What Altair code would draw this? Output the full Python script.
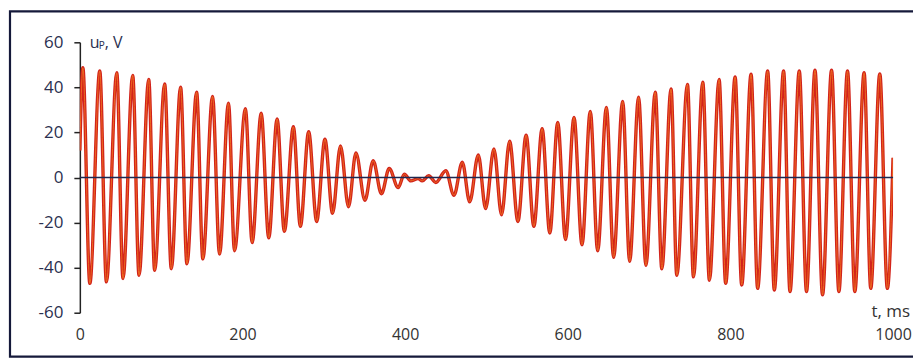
import altair as alt
import pandas as pd

# Waveform: local maxima / minima (t in ms, u in V)
peak_t = [3.7, 24.5, 45.4, 65.0, 84.7, 104.3, 123.9, 143.6, 163.2, 182.8,
          203.6, 223.0, 242.6, 262.6, 281.4, 301.4, 320.5, 339.5, 360.7, 380.4,
          399.0, 416.0, 429.0,
          450.0, 470.3, 490.0, 509.2, 528.5, 548.8, 568.5, 587.7, 607.7, 627.7,
          647.5, 667.5, 687.1, 707.6, 727.0, 747.2, 766.0, 786.1, 805.8, 825.4,
          845.8, 865.4, 884.7, 904.0, 924.4, 944.0, 964.4, 983.7]
peak_v = [48.7, 47.3, 46.5, 45.3, 43.5, 41.5, 40.1, 37.9, 36.0, 33.0,
          30.5, 28.5, 26.0, 22.5, 20.3, 17.0, 14.0, 10.9, 7.5, 4.0,
          1.5, -0.5, 0.8,
          3.0, 6.8, 10.0, 12.7, 16.1, 18.8, 21.7, 24.4, 26.7, 29.3,
          31.1, 33.8, 35.6, 37.9, 39.3, 41.3, 42.3, 43.5, 44.6, 45.8,
          47.3, 47.3, 47.3, 47.6, 47.6, 47.3, 46.5, 46.0]

trough_t = [12.3, 32.7, 53.1, 72.8, 92.0, 112.5, 131.7, 151.3, 171.8, 190.2,
            211.9, 232.3, 251.5, 271.2, 291.2, 310.8, 330.4, 350.6, 370.9, 391.4,
            407.0, 421.0, 437.7,
            460.1, 479.4, 499.0, 518.6, 538.7, 558.3, 577.9, 597.2, 617.5, 636.8,
            656.4, 676.1, 696.1, 715.7, 734.1, 754.6, 774.2, 794.2, 813.9, 833.5,
            854.0, 873.3, 893.6, 913.3, 933.4, 953.0, 972.6, 993.0]
trough_v = [-47.0, -46.3, -44.8, -43.4, -41.2, -40.5, -38.3, -36.1, -34.0, -32.5,
            -28.9, -26.8, -23.9, -21.7, -19.5, -15.9, -13.0, -10.1, -7.2, -4.5,
            -1.5, -1.5, -2.2,
            -7.9, -10.8, -13.8, -16.6, -19.5, -21.7, -24.6, -27.5, -29.9, -32.5,
            -35.4, -37.2, -39.0, -40.5, -43.4, -44.1, -45.6, -47.0, -47.7, -49.2,
            -49.9, -50.6, -50.6, -52.1, -50.6, -50.6, -49.2, -49.2]

end_t = [0.0, 1000.0]
end_v = [12.0, 8.8]

x_ticks = [0, 200, 400, 600, 800, 1000]
y_ticks = [-60, -40, -20, 0, 20, 40, 60]

wave = pd.DataFrame({
    "t": peak_t + trough_t + end_t,
    "u": peak_v + trough_v + end_v,
}).sort_values("t").reset_index(drop=True)

W, H = 815, 271
FONT = "Open Sans"
LABEL = "#2b3050"

xs = alt.Scale(domain=[0, 1000], nice=False, zero=False)
ys = alt.Scale(domain=[-60, 60], nice=False)

x_axis = alt.Axis(values=x_ticks, domain=False, ticks=False, grid=False,
                  labelFlush=False, labelPadding=14, labelFontSize=16,
                  labelExpr="'' + datum.value",
                  labelFont=FONT, labelColor="#333333", title=None)
y_axis = alt.Axis(values=y_ticks, domain=True, domainColor="#222222",
                  domainWidth=1.5, ticks=True, tickSize=6, tickColor="#222222",
                  tickWidth=1.5, grid=False, labelPadding=11, labelFontSize=17,
                  labelExpr="'' + datum.value",
                  labelFont=FONT, labelColor=LABEL, title=None)

base = alt.Chart(wave)

line_red = base.mark_line(color="#d2231b", strokeWidth=3.4,
                          interpolate="monotone", clip=True).encode(
    x=alt.X("t:Q", scale=xs, axis=x_axis),
    y=alt.Y("u:Q", scale=ys, axis=y_axis),
)
line_core = base.mark_line(color="#f27a22", strokeWidth=1.0, opacity=0.8,
                           interpolate="monotone", clip=True).encode(
    x=alt.X("t:Q", scale=xs),
    y=alt.Y("u:Q", scale=ys),
)

zero = alt.Chart(pd.DataFrame({"t": [0], "t2": [1000], "u": [0]})).mark_rule(
    color="#1e2850", strokeWidth=1.6).encode(
    x=alt.X("t:Q", scale=xs), x2="t2:Q", y=alt.Y("u:Q", scale=ys))

one = pd.DataFrame({"a": [0]})
txt_u = alt.Chart(one).mark_text(text="u", fontSize=16, font=FONT, color=LABEL,
                                 align="left", baseline="alphabetic").encode(
    x=alt.value(10), y=alt.value(6))
txt_p = alt.Chart(one).mark_text(text="P", fontSize=10, font=FONT, color=LABEL,
                                 align="left", baseline="alphabetic").encode(
    x=alt.value(19), y=alt.value(7))
txt_v = alt.Chart(one).mark_text(text=", V", fontSize=16, font=FONT, color=LABEL,
                                 align="left", baseline="alphabetic").encode(
    x=alt.value(25), y=alt.value(6))
txt_t = alt.Chart(one).mark_text(text="t, ms", fontSize=17, font=FONT,
                                 color="#333333", align="right",
                                 baseline="alphabetic").encode(
    x=alt.value(832), y=alt.value(275))

frame = alt.Chart(one).mark_rect(filled=False, stroke="#15193a", strokeWidth=2.2,
                                 clip=False).encode(
    x=alt.value(-70), x2=alt.value(860), y=alt.value(-31), y2=alt.value(315))

chart = alt.layer(frame, line_red, line_core, zero, txt_u, txt_p, txt_v, txt_t).properties(
    width=W, height=H,
    autosize=alt.AutoSizeParams(type="none"),
    padding={"left": 72, "top": 34, "right": 20, "bottom": 46},
    background="white",
).configure_view(stroke=None)

chart.save("out.html", embed_options={"renderer": "svg", "actions": False})
